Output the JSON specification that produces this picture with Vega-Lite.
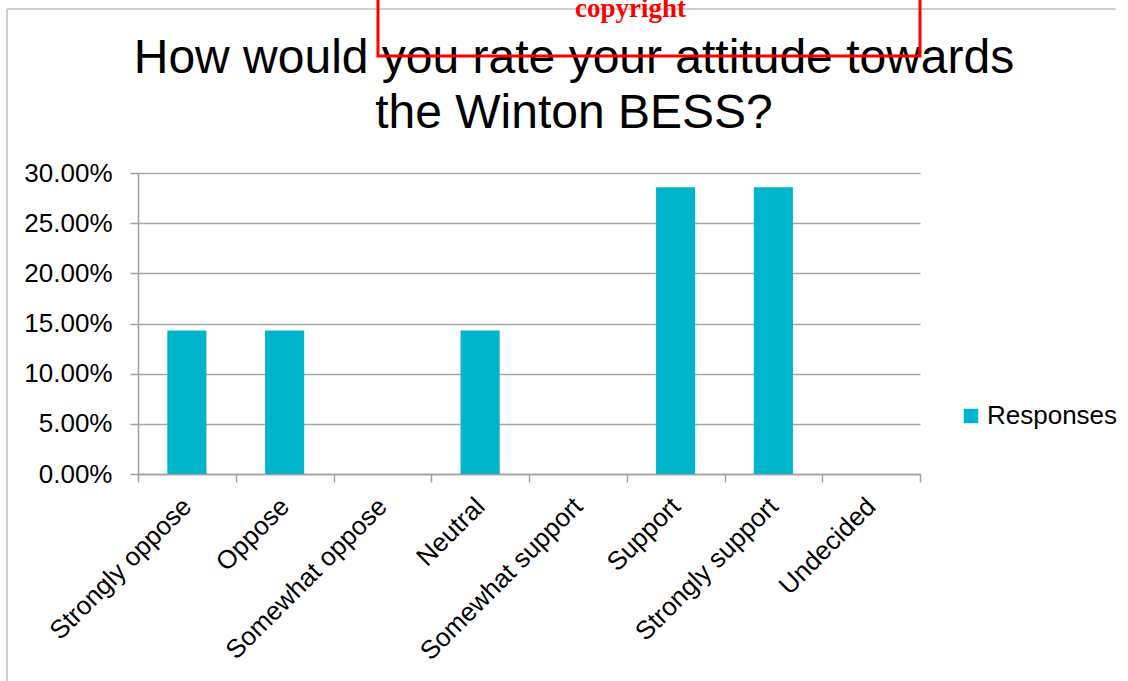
{
  "$schema": "https://vega.github.io/schema/vega-lite/v6.json",
  "width": 782,
  "height": 301,
  "autosize": {"type": "none"},
  "padding": {"left": 138, "top": 173, "right": 208, "bottom": 207},
  "background": "white",
  "config": {
    "font": "Liberation Sans",
    "view": {"stroke": null},
    "axis": {"labelColor": "#000000", "labelFont": "Liberation Sans", "labelFontSize": 26, "domainColor": "#a0a0a0", "tickColor": "#a0a0a0", "tickSize": 8, "gridColor": "#a6a6a6", "domainWidth": 1.5, "tickWidth": 1.5, "gridWidth": 1.5, "labelLimit": 0}
  },
  "datasets": {
    "responses": [
      {"Category": "Strongly oppose", "Share": 0.1429},
      {"Category": "Oppose", "Share": 0.1429},
      {"Category": "Somewhat oppose", "Share": 0},
      {"Category": "Neutral", "Share": 0.1429},
      {"Category": "Somewhat support", "Share": 0},
      {"Category": "Support", "Share": 0.2857},
      {"Category": "Strongly support", "Share": 0.2857},
      {"Category": "Undecided", "Share": 0}
    ],
    "heading": [
      {"label": "How would you rate your attitude towards\nthe Winton BESS?", "tx": 4.46, "ty": 0.3997}
    ],
    "watermark": [
      {"label": "copyright", "x": 2.455, "x2": 8.0, "y": 0.4166, "y2": 0.5, "ty": 0.4555, "tx": 5.038}
    ],
    "lines": [
      {"part": "frame", "x": -1.34, "x2": -1.34, "y": 0.4635, "y2": -0.21},
      {"part": "frame", "x": -1.34, "x2": 10, "y": 0.4635, "y2": 0.4635}
    ]
  },
  "layer": [
    {
      "data": {"name": "responses"},
      "mark": {"type": "bar", "width": {"band": 0.4}},
      "encoding": {
        "x": {
          "field": "Category", "type": "nominal", "sort": null,
          "scale": {"paddingInner": 0, "paddingOuter": 0},
          "axis": {"title": null, "labelAngle": -45, "labelAlign": "right", "labelBaseline": "middle", "tickBand": "extent", "labelPadding": 20, "grid": false}
        },
        "y": {
          "field": "Share", "type": "quantitative",
          "scale": {"domain": [0, 0.3], "nice": false},
          "axis": {"title": null, "format": ".2%", "values": [0, 0.05, 0.1, 0.15, 0.2, 0.25, 0.3], "labelPadding": 18, "grid": true}
        },
        "color": {
          "datum": "Responses",
          "scale": {"range": ["#00B4CC"]},
          "legend": {"title": null, "orient": "none", "legendX": 820, "legendY": 230, "symbolType": "square", "symbolSize": 210, "labelFontSize": 26, "labelColor": "#000000", "labelFont": "Liberation Sans", "labelOffset": 3, "symbolStrokeWidth": 0}
        }
      }
    },
    {
      "data": {"name": "lines"},
      "mark": {"type": "rule", "color": "#bfbfbf", "strokeWidth": 1.5},
      "encoding": {
        "x": {"field": "x", "type": "quantitative", "scale": {"domain": [0, 8], "nice": false, "zero": false}, "axis": null},
        "x2": {"field": "x2"},
        "y": {"field": "y", "type": "quantitative", "scale": {"domain": [0, 0.3], "nice": false}, "axis": null},
        "y2": {"field": "y2"}
      }
    },
    {
      "data": {"name": "heading"},
      "mark": {"type": "text", "color": "#000000", "font": "Liberation Sans", "fontSize": 48, "align": "center", "baseline": "alphabetic", "lineBreak": "\n", "lineHeight": 55},
      "encoding": {
        "x": {"field": "tx", "type": "quantitative", "scale": {"domain": [0, 8], "nice": false, "zero": false}, "axis": null},
        "y": {"field": "ty", "type": "quantitative", "scale": {"domain": [0, 0.3], "nice": false}, "axis": null},
        "text": {"field": "label"}
      }
    },
    {
      "data": {"name": "watermark"},
      "mark": {"type": "rect", "fill": null, "fillOpacity": 0, "stroke": "#ff0000", "strokeWidth": 3},
      "encoding": {
        "x": {"field": "x", "type": "quantitative", "scale": {"domain": [0, 8], "nice": false, "zero": false}, "axis": null},
        "x2": {"field": "x2"},
        "y": {"field": "y", "type": "quantitative", "scale": {"domain": [0, 0.3], "nice": false}, "axis": null},
        "y2": {"field": "y2"}
      }
    },
    {
      "data": {"name": "watermark"},
      "mark": {"type": "text", "color": "#ff0000", "font": "Liberation Serif", "fontWeight": "bold", "fontSize": 27, "align": "center", "baseline": "alphabetic"},
      "encoding": {
        "x": {"field": "tx", "type": "quantitative", "scale": {"domain": [0, 8], "nice": false, "zero": false}, "axis": null},
        "y": {"field": "ty", "type": "quantitative", "scale": {"domain": [0, 0.3], "nice": false}, "axis": null},
        "text": {"field": "label"}
      }
    }
  ],
  "resolve": {"scale": {"x": "independent"}, "axis": {"x": "independent", "y": "independent"}}
}
